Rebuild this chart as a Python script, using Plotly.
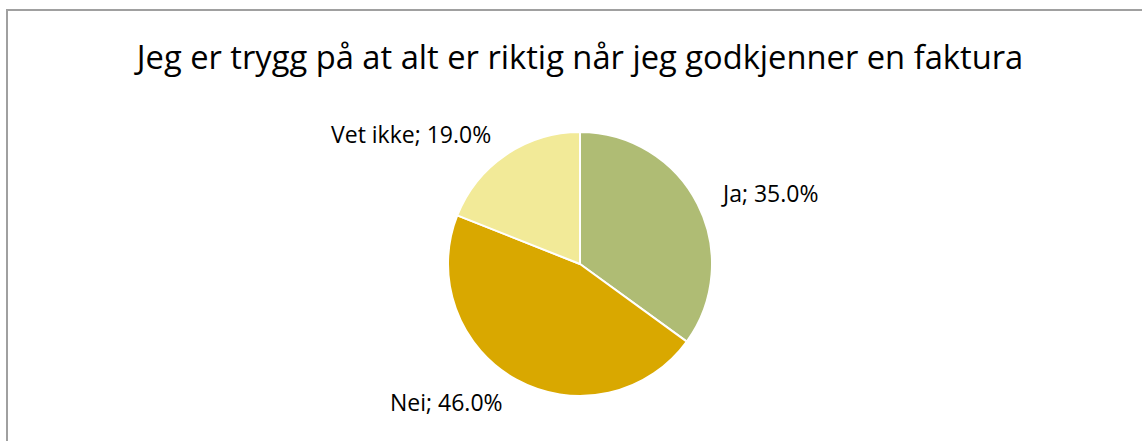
import math
import plotly.graph_objects as go

title_text = "Jeg er trygg på at alt er riktig når jeg godkjenner en faktura"
categories = ["Ja", "Nei", "Vet ikke"]
values = [35.0, 46.0, 19.0]
colors = ["#AFBC74", "#D9A800", "#F2EA98"]

W, H = 1142, 441
cx, cy, r = 580, 264, 132
label_r = 1.19 * r

fig = go.Figure(go.Pie(
    labels=categories,
    values=values,
    sort=False,
    direction="clockwise",
    rotation=0,
    marker=dict(colors=colors, line=dict(color="white", width=2)),
    textinfo="none",
    showlegend=False,
    hoverinfo="label+percent",
    domain=dict(x=[(cx - r) / W, (cx + r) / W], y=[1 - (cy + r) / H, 1 - (cy - r) / H]),
))

# outside data labels placed along each slice's mid angle
total = sum(values)
annotations = []
cum = 0.0
for lab, v in zip(categories, values):
    mid = (cum + v / 2) / total * 2 * math.pi
    cum += v
    px = cx + label_r * math.sin(mid)
    py = cy - label_r * math.cos(mid)
    annotations.append(dict(
        text=f"{lab}; {v / total * 100:.1f}%",
        x=px / W, y=1 - py / H, xref="paper", yref="paper",
        xanchor="left" if math.sin(mid) >= 0 else "right", yanchor="middle",
        showarrow=False, borderpad=0,
        font=dict(family="Open Sans", size=23, color="#000000"),
    ))

fig.update_layout(
    width=W, height=H,
    margin=dict(l=0, r=0, t=0, b=0),
    paper_bgcolor="white",
    plot_bgcolor="white",
    font=dict(family="Open Sans", color="#000000"),
    title=dict(text=title_text, x=580 / W, xanchor="center", y=1 - 58 / H, yanchor="middle",
               font=dict(family="Open Sans", size=32.7, color="#000000")),
    annotations=annotations,
    shapes=[dict(type="rect", xref="paper", yref="paper",
                 x0=7 / W, x1=1.05, y0=-0.05, y1=1 - 10 / H,
                 line=dict(color="#A0A0A0", width=2), fillcolor="rgba(0,0,0,0)")],
)

fig.write_html("out.html")
